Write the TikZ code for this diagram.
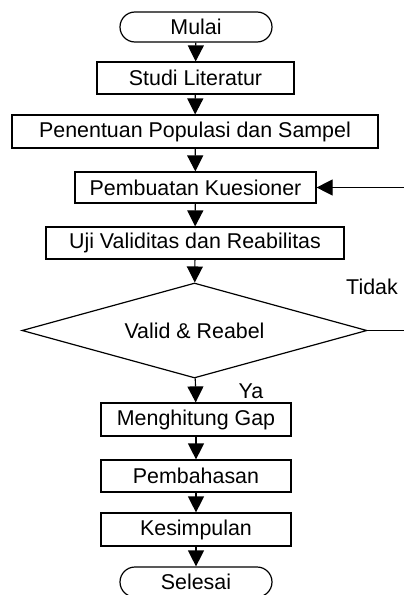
\documentclass[tikz,border=0pt]{standalone}
\usepackage{fontspec}
\setmainfont{Liberation Sans}
\usetikzlibrary{shapes.geometric,arrows.meta}
\begin{document}
\begin{tikzpicture}[x=0.5pt,y=-0.5pt,
	every node/.style={font=\fontsize{10.7}{12}\selectfont},
	box/.style={draw, line width=0.6pt, inner sep=0pt, minimum width=95pt, minimum height=16.5pt},
	term/.style={draw, line width=0.6pt, inner sep=0pt, rounded corners=7.5pt, minimum width=76pt, minimum height=15pt},
	flow/.style={line width=0.6pt, -{Triangle[length=8pt,width=8pt]}}]
	\useasboundingbox (0,0) rectangle (403,595);
	\node[term] at (196,27)(0){Mulai};
	\node[box, minimum width=98.5pt, minimum height=16pt] at (195.5,78)(1){Studi Literatur};
	\node[box, minimum width=183pt] at (195,131.5)(2){Penentuan Populasi dan Sampel};
	\node[box, minimum width=120.5pt, minimum height=15.5pt] at (195.5,187.5)(3){Pembuatan Kuesioner};
	\node[box, minimum width=149pt, minimum height=16pt] at (195,243)(4){Uji Validitas dan Reabilitas};
	\node[draw, diamond, line width=0.6pt, inner sep=0pt, aspect=3.6, minimum width=172.5pt, minimum height=47.5pt] at (194.5,330.5)(5){Valid \& Reabel};
	\node[box] at (196,419.5)(6){Menghitung Gap};
	\node[box, minimum height=16pt] at (196,476)(7){Pembahasan};
	\node[box] at (196,529.5)(8){Kesimpulan};
	\node[term] at (196,582)(9){Selesai};
	\node at (372,287){Tidak};
	\node at (251,391){Ya};
	\path[flow] (0) edge (1)
	(1) edge (2)
	(2) edge (3)
	(3) edge (4)
	(4) edge (5)
	(5) edge (6)
	(6) edge (7)
	(7) edge (8)
	(8) edge (9);
	\draw[flow] (5.east) -- (408,330.5) |- (3.east);
\end{tikzpicture}
\end{document}
